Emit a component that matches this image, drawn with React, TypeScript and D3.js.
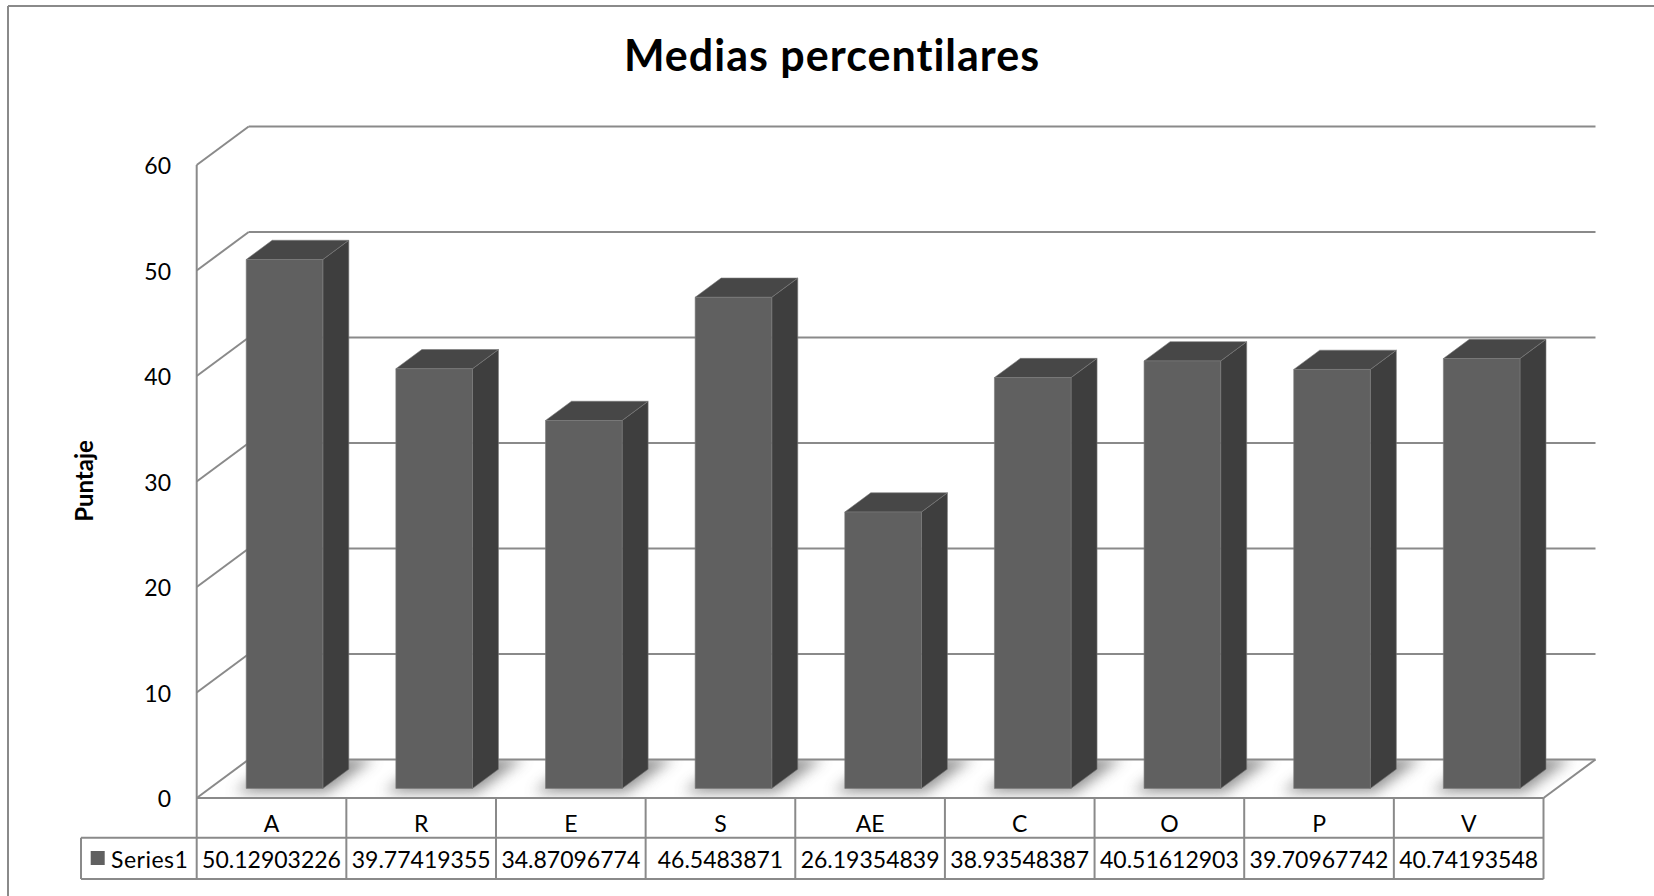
import React from "react";
import * as d3 from "d3";

const categories = ["A", "R", "E", "S", "AE", "C", "O", "P", "V"];
const values = [50.12903226, 39.77419355, 34.87096774, 46.5483871, 26.19354839, 38.93548387, 40.51612903, 39.70967742, 40.74193548];
const valueLabels = ["50.12903226", "39.77419355", "34.87096774", "46.5483871", "26.19354839", "38.93548387", "40.51612903", "39.70967742", "40.74193548"];
const yTicks = [0, 10, 20, 30, 40, 50, 60];
const seriesName = "Series1";
const title = "Medias percentilares";
const yTitle = "Puntaje";

const W = 1654;
const H = 896;
const FONT = "Lato, 'Open Sans', sans-serif";
const GRID = "#8a8a8a";
const DX = 52;
const DY = -38.5;

export default function App() {
  const x0 = 196.7;
  const x1 = 1543.5;
  const yScale = d3.scaleLinear().domain([0, 60]).range([798, 165]);
  const xBand = d3.scaleBand<string>().domain(categories).range([x0, x1]).paddingInner(0).paddingOuter(0);
  const xBar = d3.scaleBand<string>().domain(categories).range([x0, x1]).paddingInner(0.488).paddingOuter(0.244);
  const pt = (x: number, v: number, z: number): [number, number] => [x + z * DX, yScale(v) + z * DY];
  const poly = (pts: [number, number][]) => pts.map((p) => p.join(",")).join(" ");
  const zF = 0.25;
  const zB = 0.75;
  const bw = xBar.bandwidth();
  const rowTop = yScale(0);
  const row1 = 837.7;
  const row2 = 879;

  const floorPts: [number, number][] = [pt(x0, 0, 0), pt(x1, 0, 0), pt(x1, 0, 1), pt(x0, 0, 1)];

  return (
    <div>
      <style>{"body{margin:0}"}</style>
      <svg width={W} height={H} style={{ display: "block", background: "#fff" }}>
        <defs>
          <filter id="blur" x="-50%" y="-50%" width="200%" height="200%">
            <feGaussianBlur stdDeviation="7" />
          </filter>
          <clipPath id="floorClip">
            <polygon points={poly(floorPts)} />
          </clipPath>
        </defs>
        {/* frame */}
        <line x1={8} y1={6} x2={W} y2={6} stroke={GRID} strokeWidth={2} />
        <line x1={8} y1={6} x2={8} y2={H} stroke={GRID} strokeWidth={2} />

        {/* title */}
        <text x={832} y={71} textAnchor="middle" fontFamily={FONT} fontWeight="bold" fontSize={43} letterSpacing={1} fill="#000">
          {title}
        </text>

        {/* y axis title */}
        <text transform="translate(93,481) rotate(-90)" textAnchor="middle" fontFamily={FONT} fontWeight="bold" fontSize={24} fill="#000">
          {yTitle}
        </text>

        {/* floor */}
        <polygon points={poly(floorPts)} fill="#fff" stroke="none" />
        {/* shadows */}
        <g clipPath="url(#floorClip)">
          {categories.map((c, i) => {
            const bx = xBar(c)!;
            const sp: [number, number][] = [pt(bx - 6, 0, zF - 0.1), pt(bx + bw + 10, 0, zF - 0.1), pt(bx + bw + 10, 0, zB + 0.3), pt(bx - 6, 0, zB + 0.3)];
            return <polygon key={"sh" + i} points={poly(sp)} fill="#6e6e6e" opacity={0.75} filter="url(#blur)" />;
          })}
        </g>

        {/* gridlines: back wall and left wall */}
        {yTicks.map((t) => {
          const [fx, fy] = pt(x0, t, 0);
          const [bx, by] = pt(x0, t, 1);
          const [rx, ry] = pt(x1, t, 1);
          return (
            <g key={"g" + t}>
              <line x1={fx} y1={fy} x2={bx} y2={by} stroke={GRID} strokeWidth={2} />
              <line x1={bx} y1={by} x2={rx} y2={ry} stroke={GRID} strokeWidth={2} />
            </g>
          );
        })}
        {/* floor right edge */}
        <line x1={pt(x1, 0, 0)[0]} y1={pt(x1, 0, 0)[1]} x2={pt(x1, 0, 1)[0]} y2={pt(x1, 0, 1)[1]} stroke={GRID} strokeWidth={2} />
        {/* left axis vertical */}
        <line x1={x0} y1={yScale(60)} x2={x0} y2={row2} stroke={GRID} strokeWidth={2} />

        {/* y tick labels */}
        {yTicks.map((t) => (
          <text key={"yl" + t} x={171} y={yScale(t) + 9} textAnchor="end" fontFamily={FONT} fontSize={23} fill="#000">
            {t}
          </text>
        ))}

        {/* bars */}
        {categories.map((c, i) => {
          const bx = xBar(c)!;
          const v = values[i];
          const fBL = pt(bx, 0, zF);
          const fBR = pt(bx + bw, 0, zF);
          const fTL = pt(bx, v, zF);
          const fTR = pt(bx + bw, v, zF);
          const bTL = pt(bx, v, zB);
          const bTR = pt(bx + bw, v, zB);
          const bBR = pt(bx + bw, 0, zB);
          return (
            <g key={"b" + i} stroke="#7a7a7a" strokeWidth={0.6} strokeLinejoin="round">
              <polygon points={poly([fBR, fTR, bTR, bBR])} fill="#3e3e3e" />
              <polygon points={poly([fTL, fTR, bTR, bTL])} fill="#474747" />
              <polygon points={poly([fBL, fBR, fTR, fTL])} fill="#606060" />
            </g>
          );
        })}

        {/* data table */}
        <line x1={x0} y1={rowTop} x2={x1} y2={rowTop} stroke={GRID} strokeWidth={2} />
        <line x1={81} y1={row1} x2={x1} y2={row1} stroke={GRID} strokeWidth={2} />
        <line x1={81} y1={row2} x2={x1} y2={row2} stroke={GRID} strokeWidth={2} />
        <line x1={81} y1={row1} x2={81} y2={row2} stroke={GRID} strokeWidth={2} />
        {categories.map((c, i) => {
          const sx = xBand(c)! + xBand.bandwidth();
          return <line key={"cs" + i} x1={sx} y1={rowTop} x2={sx} y2={row2} stroke={GRID} strokeWidth={2} />;
        })}
        {categories.map((c, i) => {
          const cx = xBand(c)! + xBand.bandwidth() / 2;
          return (
            <g key={"tx" + i} fontFamily={FONT} fontSize={23} fill="#000" textAnchor="middle">
              <text x={cx} y={831.5}>{c}</text>
              <text x={cx} y={868.3}>{valueLabels[i]}</text>
            </g>
          );
        })}
        <rect x={90.7} y={851} width={14} height={14} fill="#606060" />
        <text x={111} y={868.3} fontFamily={FONT} fontSize={23} letterSpacing={0.5} fill="#000">
          {seriesName}
        </text>
      </svg>
    </div>
  );
}
